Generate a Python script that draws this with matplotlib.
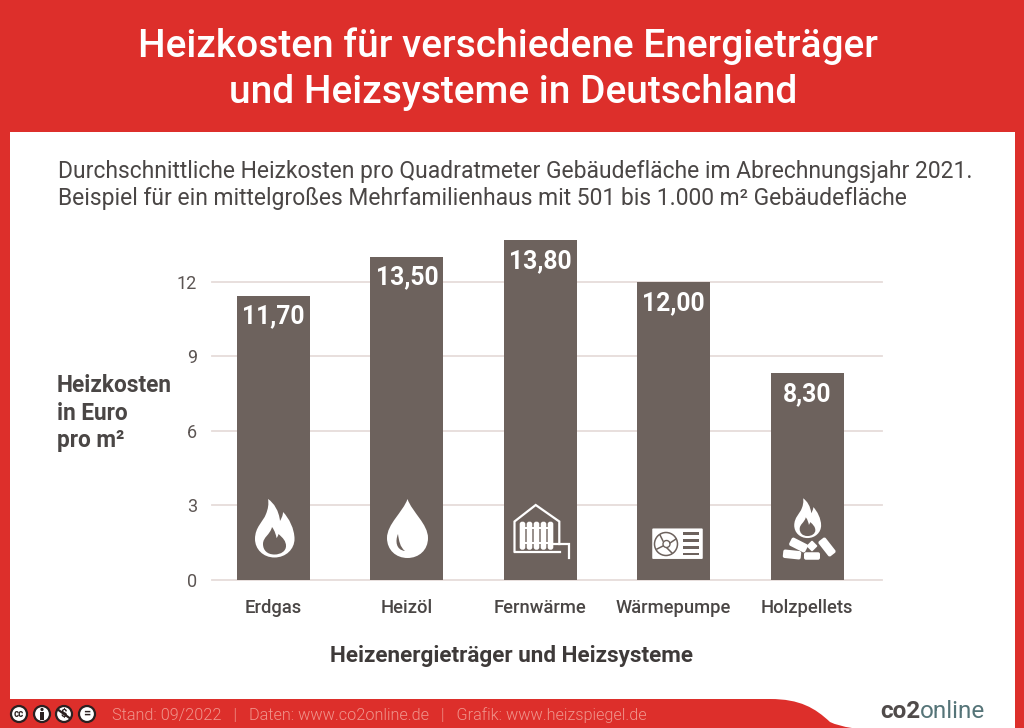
import matplotlib
matplotlib.use("Agg")
import matplotlib.pyplot as plt
from matplotlib.path import Path
from matplotlib.patches import PathPatch, Rectangle, Circle, FancyBboxPatch
from matplotlib.transforms import Affine2D

plt.rcParams['font.family'] = ['Roboto', 'DejaVu Sans']

# ---- data ----
categories = ["Erdgas", "Heizöl", "Fernwärme", "Wärmepumpe", "Holzpellets"]
bar_heights = [11.45, 13.02, 13.68, 12.0, 8.33]      # drawn heights
value_labels = ["11,70", "13,50", "13,80", "12,00", "8,30"]
y_ticks = [0, 3, 6, 9, 12]
title_lines = ["Heizkosten für verschiedene Energieträger", "und Heizsysteme in Deutschland"]
sub_lines = ["Durchschnittliche Heizkosten pro Quadratmeter Gebäudefläche im Abrechnungsjahr 2021.",
             "Beispiel für ein mittelgroßes Mehrfamilienhaus mit 501 bis 1.000 m² Gebäudefläche"]
y_label_lines = ["Heizkosten", "in Euro", "pro m²"]
x_title = "Heizenergieträger und Heizsysteme"
footer = "Stand: 09/2022   |   Daten: www.co2online.de   |   Grafik: www.heizspiegel.de"

RED = "#DD2F2B"
BAR = "#6D625D"
TXT = "#4A4645"
GRID = "#E6DCDA"
W, H = 1024, 728

fig = plt.figure(figsize=(W / 100, H / 100), dpi=100, facecolor="white")

# background chrome in pixel space
bg = fig.add_axes([0, 0, 1, 1], zorder=0)
bg.set_xlim(0, W); bg.set_ylim(H, 0); bg.axis("off")
bg.add_patch(Rectangle((0, 0), W, 132, fc=RED, ec="none"))
bg.add_patch(Rectangle((0, 0), 10, H, fc=RED, ec="none"))
bg.add_patch(Rectangle((1014.5, 0), 10, H, fc=RED, ec="none"))
footer_path = Path(
    [(0, 699), (770, 699), (800, 699), (815, 708), (830, 722), (838, 726), (852, 728), (0, 728), (0, 699)],
    [Path.MOVETO, Path.LINETO, Path.CURVE4, Path.CURVE4, Path.CURVE4, Path.CURVE3, Path.CURVE3, Path.LINETO, Path.CLOSEPOLY])
bg.add_patch(PathPatch(footer_path, fc=RED, ec="none"))

# main chart
px_unit = 24.8
y0 = 579.6
top_val = 14.0
left, right = 212, 882
step = (807.0 - 273.5) / 4
ax = fig.add_axes([left / W, 1 - y0 / H, (right - left) / W, top_val * px_unit / H], zorder=1)
ax.patch.set_alpha(0)
xs = list(range(len(categories)))
ax.bar(xs, bar_heights, width=73 / step, color=BAR, zorder=3)
ax.set_xlim((left - 273.5) / step, (right - 273.5) / step)
ax.set_ylim(0, top_val)
ax.set_yticks(y_ticks)
ax.set_xticks(xs, categories)
ax.grid(axis="y", color=GRID, lw=1.3, zorder=1)
for gl in ax.get_ygridlines():
    gl.set_clip_on(False)
for s in ax.spines.values():
    s.set_visible(False)
ax.tick_params(axis="y", length=0, pad=10.8, labelsize=13, labelcolor="#5C5553")
ax.tick_params(axis="x", length=0, pad=14, labelsize=13.2, labelcolor=TXT)
for lab in ax.get_xticklabels():
    lab.set_fontweight(500)
for x, h, t in zip(xs, bar_heights, value_labels):
    ax.annotate(t, (x, h), xytext=(0, -15), textcoords="offset points", ha="center", va="center",
                color="white", fontsize=17.8, fontweight="bold", zorder=5)

# overlay in pixel space
ov = fig.add_axes([0, 0, 1, 1], zorder=2)
ov.set_xlim(0, W); ov.set_ylim(H, 0); ov.axis("off"); ov.patch.set_alpha(0)

ov.text(508, 46.5, title_lines[0], color="white", fontsize=28, fontweight=500, ha="center", va="center")
ov.text(513, 92.5, title_lines[1], color="white", fontsize=28, fontweight=500, ha="center", va="center")
ov.text(58, 171.5, sub_lines[0], color=TXT, fontsize=16.45, ha="left", va="center")
ov.text(58, 198.5, sub_lines[1], color=TXT, fontsize=16.45, ha="left", va="center")
for yy, t in zip([385, 413, 440], y_label_lines):
    ov.text(57, yy, t, color=TXT, fontsize=16.3, fontweight="bold", ha="left", va="center")
ov.text(512, 656, x_title, color="#3E3A39", fontsize=16.2, fontweight="bold", ha="center", va="center")
ov.text(112, 715, footer, color="#F0958C", fontsize=11.7, fontweight=300, ha="left", va="center")
ov.text(880, 711.5, "co2", color="#504B4A", fontsize=17.5, fontweight="bold", ha="left", va="center")
ov.text(920, 711.5, "online", color="#557478", fontsize=17.5, ha="left", va="center")

# licence badges
for cx, sym in zip([19, 42, 64, 87], ["cc", "", "", "="]):
    ov.add_patch(Circle((cx, 714), 8, fc="white", ec="#2B2020", lw=1.6))
    if sym:
        ov.text(cx, 713.6, sym, fontsize=7 if sym == "cc" else 9, fontweight="bold", color="#2B2020",
                ha="center", va="center")
ov.add_patch(Circle((42, 709.5), 1.6, fc="#2B2020", ec="none"))
ov.add_patch(Rectangle((39.8, 711.5), 4.4, 8, fc="#2B2020", ec="none"))
ov.plot([58.5, 69.5], [710, 718], color="#2B2020", lw=1.6)
ov.text(64, 714, "$", fontsize=8, fontweight="bold", color="#2B2020", ha="center", va="center",
        parse_math=False)

M, L, C, Z = Path.MOVETO, Path.LINETO, Path.CURVE4, Path.CLOSEPOLY


def shape(start, segs, color="white"):
    """Closed shape from cubic segments (c1, c2, end)."""
    verts, codes = [start], [M]
    for s in segs:
        verts += s; codes += [C, C, C]
    verts.append(start); codes.append(Z)
    ov.add_patch(PathPatch(Path(verts, codes), fc=color, ec="none", zorder=4))


def round_bar(cx, cy, w, h, ang, r=1.5, color="white"):
    p = FancyBboxPatch((cx - w / 2, cy - h / 2), w, h, boxstyle=f"round,pad=0,rounding_size={r}",
                       fc=color, ec="none", zorder=4)
    p.set_transform(Affine2D().rotate_deg_around(cx, cy, ang) + ov.transData)
    ov.add_patch(p)


def flame(dx, dy, s):
    f = lambda x, y: (dx + (x - 274.5) * s, dy + (y - 528) * s)
    shape(f(274.5, 557.5), [
        [f(263, 557.5), f(255, 549), f(255, 539)],
        [f(255, 527), f(263, 522), f(266, 514)],
        [f(268, 509), f(269, 504), f(268, 499)],
        [f(274, 503), f(279, 511), f(280, 521)],
        [f(281, 519), f(283, 516), f(283, 512)],
        [f(289, 518), f(294.5, 529), f(294.5, 539)],
        [f(294.5, 549), f(286, 557.5), f(274.5, 557.5)],
    ])
    shape(f(274.5, 554.5), [
        [f(267, 554.5), f(263, 550), f(263, 544)],
        [f(263, 537), f(270, 535), f(272, 527)],
        [f(275, 531), f(276, 535), f(276.5, 538)],
        [f(277.5, 537), f(278, 536), f(278.5, 534)],
        [f(283, 538), f(286, 541), f(286, 546)],
        [f(286, 551), f(281, 554.5), f(274.5, 554.5)],
    ], color=BAR)


# Erdgas icon
flame(274.5, 528, 1.0)

# Heizöl icon: drop with crescent
shape((407.5, 499), [
    [(403, 512), (387, 524), (387, 538)],
    [(387, 550), (396, 558), (407.5, 558)],
    [(419, 558), (428, 550), (428, 538)],
    [(428, 524), (412, 512), (407.5, 499)],
])
shape((398, 534), [
    [(395, 541), (396, 550), (405, 551)],
    [(400, 547), (399, 541), (398, 534)],
], color=BAR)

# Fernwärme icon: house, radiator, pipe
ov.plot([514.5, 514.5, 535.7, 559.3, 559.3], [551.5, 521.5, 505, 521.5, 544], color="white", lw=1.6,
        solid_joinstyle="miter", zorder=4)
ov.plot([514.5, 560], [551.5, 551.5], color="white", lw=1.6, zorder=4)
ov.plot([552, 568.5, 568.5], [544, 544, 558], color="white", lw=1.6, solid_joinstyle="miter", zorder=4)
for cx in [522.5, 529.5, 536.5, 543.5, 550.5]:
    round_bar(cx, 535.7, 5.6, 28, 0, r=2.4)
ov.add_patch(Rectangle((520, 527), 33, 2, fc="white", ec="none", zorder=4))
ov.add_patch(Rectangle((520, 542), 33, 2, fc="white", ec="none", zorder=4))

# Wärmepumpe icon: outdoor unit
round_bar(677.5, 543.7, 50.5, 30.5, 0, r=1)
ov.add_patch(Circle((666, 544), 11.5, fc="white", ec=BAR, lw=1.1, zorder=5))
ov.add_patch(Circle((666.5, 544), 3.5, fc="white", ec=BAR, lw=1.0, zorder=5))
for a, b, c, d in [(660, 535, 663, 541), (676, 539, 670, 543), (672, 553, 667, 548), (657, 549, 663, 546)]:
    ov.plot([a, c], [b, d], color=BAR, lw=1.1, zorder=5)
for yy in [533.3, 540.3, 547.3, 554]:
    ov.add_patch(Rectangle((683, yy - 1.3), 16, 2.6, fc=BAR, ec="none", zorder=5))

# Holzpellets icon
flame(807.5, 518, 0.68)
round_bar(798.5, 545, 18, 9, 27, r=2)
round_bar(827, 547, 19, 9, 52, r=2)
round_bar(812, 546, 8, 8, 45, r=1)
round_bar(792, 554.5, 18, 8.5, 6, r=2)
round_bar(812, 556, 16, 7.5, 0, r=2)

fig.savefig("out.png", dpi=100, facecolor="white")
